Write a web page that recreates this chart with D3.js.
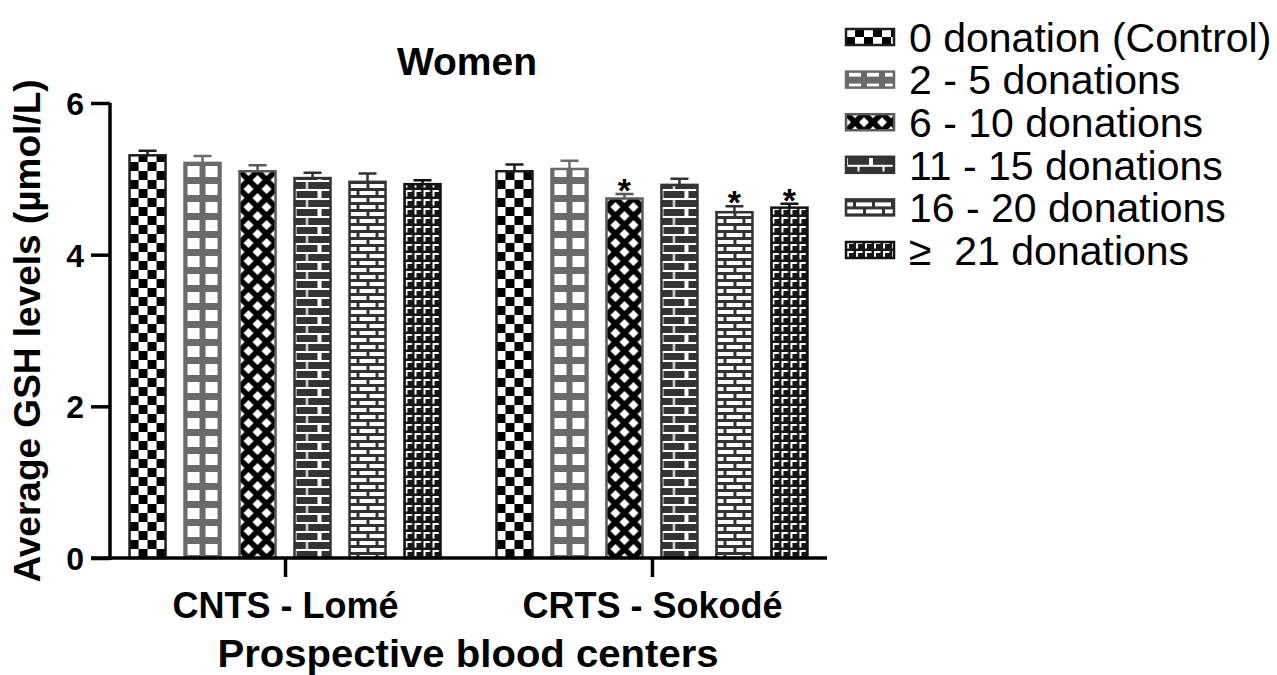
<html>
<head>
<meta charset="utf-8">
<title>Women - GSH levels</title>
<script src="https://cdnjs.cloudflare.com/ajax/libs/d3/7.8.5/d3.min.js"></script>
<style>
    body {
        margin: 0;
        background: white;
        font-family: "Liberation Sans", Arial, sans-serif;
    }
</style>
</head>
<body>
<div class="mainView"></div>
<script>
    // values
    let centers = ["CNTS - Lomé", "CRTS - Sokodé"]
    let series = ["0 donation (Control)", "2 - 5 donations", "6 - 10 donations",
                  "11 - 15 donations", "16 - 20 donations", "≥  21 donations"]
    let meanLome = [5.31, 5.21, 5.10, 5.01, 4.96, 4.93]
    let errLome = [0.06, 0.09, 0.08, 0.07, 0.11, 0.05]
    let meanSokode = [5.10, 5.13, 4.74, 4.92, 4.56, 4.62]
    let errSokode = [0.09, 0.11, 0.06, 0.08, 0.08, 0.05]
    let starSokode = [false, false, true, false, true, true]
    let yTicks = [0, 2, 4, 6]

    function buildData() {
        let rows = []
        series.forEach((s, i) => {
            rows.push({ center: centers[0], series: s, idx: i, mean: meanLome[i], err: errLome[i], star: false })
            rows.push({ center: centers[1], series: s, idx: i, mean: meanSokode[i], err: errSokode[i], star: starSokode[i] })
        })
        return rows
    }

    let borderCol = ["#1e1e1e", "#6a6a6a", "#5a5a5a", "#333", "#333", "#111"]
    let font = "'Liberation Sans', Arial, sans-serif"

    function getChartConfig() {
        let width = 1277
        let height = 675
        let svg = d3.select(".mainView")
            .append("svg")
            .attr("width", width)
            .attr("height", height)
            .style("font-family", font)
        return { width, height, svg, left: 110, right: 827, top: 103, bottom: 558 }
    }

    function makePatterns(svg) {
        let defs = svg.append("defs")

        // checkerboard
        let p0 = defs.append("pattern").attr("id", "pat0").attr("patternUnits", "userSpaceOnUse")
            .attr("width", 18).attr("height", 18)
        p0.append("rect").attr("width", 18).attr("height", 18).attr("fill", "white")
        p0.append("rect").attr("width", 9).attr("height", 9).attr("fill", "black")
        p0.append("rect").attr("x", 9).attr("y", 9).attr("width", 9).attr("height", 9).attr("fill", "black")

        // gray grid with white squares
        let p1 = defs.append("pattern").attr("id", "pat1").attr("patternUnits", "userSpaceOnUse")
            .attr("width", 18).attr("height", 18)
        p1.append("rect").attr("width", 18).attr("height", 18).attr("fill", "#6a6a6a")
        p1.append("rect").attr("x", 3).attr("y", 4).attr("width", 12).attr("height", 11).attr("fill", "white")

        // black with white diamonds
        let p2 = defs.append("pattern").attr("id", "pat2").attr("patternUnits", "userSpaceOnUse")
            .attr("width", 18).attr("height", 18)
        p2.append("rect").attr("width", 18).attr("height", 18).attr("fill", "black")
        p2.append("path").attr("fill", "white")
            .attr("d", "M9,4 L14,9 L9,14 L4,9 Z M0,-5 L5,0 L0,5 L-5,0 Z M18,-5 L23,0 L18,5 L13,0 Z M0,13 L5,18 L0,23 L-5,18 Z M18,13 L23,18 L18,23 L13,18 Z")

        // dark bricks, white mortar
        let p3 = defs.append("pattern").attr("id", "pat3").attr("patternUnits", "userSpaceOnUse")
            .attr("width", 25).attr("height", 18)
        p3.append("rect").attr("width", 25).attr("height", 18).attr("fill", "#333")
        p3.append("path").attr("stroke", "white").attr("stroke-width", 2).attr("fill", "none")
            .attr("d", "M0,1 H25 M0,10 H25 M12.5,1 V10 M1,10 V18 M24,10 V18")

        // white bricks, dark mortar
        let p4 = defs.append("pattern").attr("id", "pat4").attr("patternUnits", "userSpaceOnUse")
            .attr("width", 19).attr("height", 14)
        p4.append("rect").attr("width", 19).attr("height", 14).attr("fill", "#333")
        p4.append("rect").attr("x", 1).attr("y", 2).attr("width", 16).attr("height", 4).attr("fill", "white")
        p4.append("rect").attr("x", -9).attr("y", 9).attr("width", 16).attr("height", 4).attr("fill", "white")
        p4.append("rect").attr("x", 10).attr("y", 9).attr("width", 16).attr("height", 4).attr("fill", "white")

        // black with white corner marks
        let p5 = defs.append("pattern").attr("id", "pat5").attr("patternUnits", "userSpaceOnUse")
            .attr("width", 9).attr("height", 9)
        p5.append("rect").attr("width", 9).attr("height", 9).attr("fill", "#161616")
        p5.append("path").attr("stroke", "white").attr("stroke-width", 2).attr("fill", "none")
            .attr("d", "M2,7.5 V2 H7.5")
    }

    function getChartScales(config) {
        let xScale = d3.scalePoint()
            .domain(centers)
            .range([config.left, config.right])
            .padding(0.477)
        let innerScale = d3.scaleBand()
            .domain(series)
            .range([-165, 165])
            .paddingInner(0.345)
            .paddingOuter(0.173)
        let yScale = d3.scaleLinear()
            .domain([0, 6])
            .range([config.bottom, config.top])
        return { xScale, innerScale, yScale }
    }

    function drawAxes(scales, config) {
        let { xScale, yScale } = scales
        let { svg } = config

        let axisY = d3.axisLeft(yScale).tickValues(yTicks).tickFormat(d3.format("d"))
            .tickSize(19).tickPadding(7)
        let gy = svg.append("g")
            .attr("transform", "translate(" + config.left + ",0)")
            .call(axisY)
        gy.select(".domain").attr("d", "M0," + config.top + "V" + (config.bottom + 2))
        gy.selectAll("line, path").attr("stroke", "black").attr("stroke-width", 3.5)
        gy.selectAll("text")
            .attr("fill", "black")
            .style("font-size", "32px")
            .style("font-weight", "bold")
            .style("font-family", font)
            .attr("dy", "0.36em")

        let axisX = d3.axisBottom(xScale).tickSize(19).tickPadding(15)
        let gx = svg.append("g")
            .attr("transform", "translate(0," + config.bottom + ")")
            .call(axisX)
        gx.select(".domain").attr("d", "M91,0H" + config.right)
        gx.selectAll("line, path").attr("stroke", "black").attr("stroke-width", 3.5)
        gx.selectAll("text")
            .attr("fill", "black")
            .style("font-size", "36px")
            .style("font-weight", "bold")
            .style("font-family", font)
    }

    function drawBars(data, scales, config) {
        let { xScale, innerScale, yScale } = scales
        let { svg } = config
        let bw = innerScale.bandwidth()

        let bar = svg.append("g").selectAll("g")
            .data(data)
            .enter()
            .append("g")
            .attr("transform", d => "translate(" + (xScale(d.center) + innerScale(d.series)) + ",0)")

        bar.append("rect")
            .attr("x", 0)
            .attr("width", bw)
            .attr("y", d => yScale(d.mean))
            .attr("height", d => yScale(0) - yScale(d.mean))
            .attr("fill", d => "url(#pat" + d.idx + ")")
            .attr("stroke", d => borderCol[d.idx])
            .attr("stroke-width", 2.5)

        // error bars (SEM)
        bar.append("path")
            .attr("fill", "none")
            .attr("stroke", d => borderCol[d.idx])
            .attr("stroke-width", 2.5)
            .attr("d", d => {
                let top = yScale(d.mean + d.err)
                let bot = yScale(d.mean)
                return "M" + (bw / 2) + "," + bot + "V" + top + "M" + (bw / 2 - 9) + "," + top + "H" + (bw / 2 + 9)
            })

        bar.filter(d => d.star)
            .append("text")
            .attr("x", bw / 2)
            .attr("y", d => yScale(d.mean + d.err) + 8)
            .attr("text-anchor", "middle")
            .style("font-size", "34px")
            .style("font-weight", "bold")
            .text("*")
    }

    function drawTexts(config) {
        let { svg } = config
        svg.append("text")
            .attr("x", 467).attr("y", 75)
            .attr("text-anchor", "middle")
            .style("font-size", "39px").style("font-weight", "bold")
            .text("Women")
        svg.append("text")
            .attr("transform", "translate(40,331) rotate(-90)")
            .attr("text-anchor", "middle")
            .style("font-size", "37px").style("font-weight", "bold")
            .text("Average GSH levels (µmol/L)")
        svg.append("text")
            .attr("transform", "translate(468,667) scale(1.055,1)")
            .attr("text-anchor", "middle")
            .style("font-size", "38px").style("font-weight", "bold")
            .text("Prospective blood centers")
    }

    function drawLegend(config) {
        let { svg } = config
        let item = svg.append("g").selectAll("g")
            .data(series)
            .enter()
            .append("g")
            .attr("transform", (d, i) => "translate(846," + (37 + i * 42.6) + ")")
        item.append("rect")
            .attr("x", 0).attr("y", -8)
            .attr("width", 48).attr("height", 16)
            .attr("fill", (d, i) => "url(#pat" + i + ")")
            .attr("stroke", (d, i) => borderCol[i])
            .attr("stroke-width", 2.5)
        item.append("text")
            .attr("x", 63).attr("y", 0).attr("dy", "0.36em")
            .style("font-size", "41px")
            .style("white-space", "pre")
            .text(d => d)
    }

    function showData() {
        let data = buildData()
        let config = getChartConfig()
        makePatterns(config.svg)
        let scales = getChartScales(config)
        drawBars(data, scales, config)
        drawAxes(scales, config)
        drawTexts(config)
        drawLegend(config)
    }
    showData()
</script>
</body>
</html>
